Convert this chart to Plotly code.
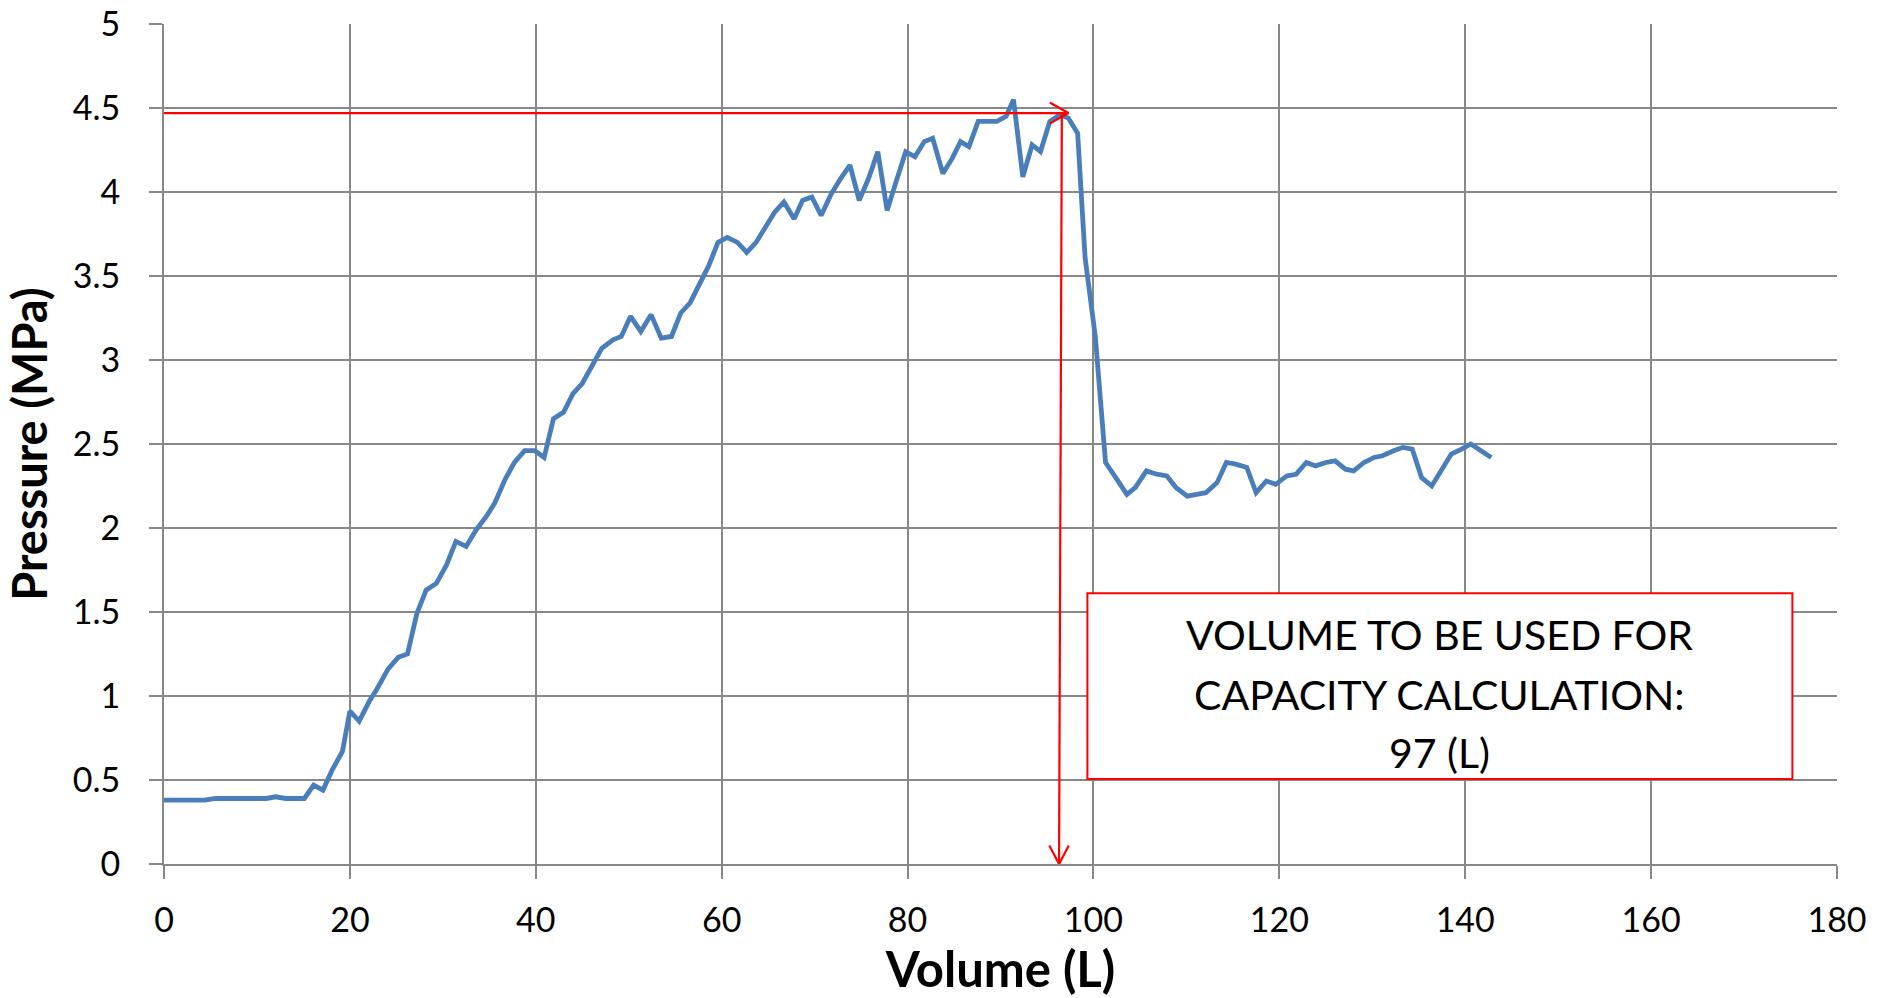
import plotly.graph_objects as go

# Measured fill curve: volume (L) and pressure (MPa)
volume_l = [
    0, 1.1, 2.2, 3.3, 4.4, 5.5, 6.6, 7.7, 8.8, 9.9, 11.0, 12.0, 13.1, 14.1, 15.1,
    16.1, 17.1, 18.1, 19.2, 20.0, 21.0, 22.1, 22.9, 24.1, 25.2, 26.2, 27.2, 28.2,
    29.3, 30.4, 31.4, 32.5, 33.6, 34.7, 35.6, 36.7, 37.7, 38.8, 39.9, 40.9, 41.9,
    43.0, 44.0, 45.0, 46.0, 47.1, 48.3, 49.2, 50.2, 51.3, 52.4, 53.5, 54.6, 55.6,
    56.6, 57.6, 58.6, 59.6, 60.6, 61.7, 62.7, 63.7, 64.7, 65.7, 66.7, 67.8, 68.7,
    69.7, 70.7, 71.8, 72.8, 73.8, 74.8, 75.8, 76.8, 77.8, 78.7, 79.8, 80.8, 81.8,
    82.7, 83.8, 84.8, 85.7, 86.6, 87.6, 88.6, 89.6, 90.6, 91.4, 92.4, 93.4, 94.3,
    95.3, 96.4, 97.3, 98.3, 99.1, 100.2, 101.3, 102.4, 103.6, 104.5, 105.7, 106.8,
    107.9, 108.9, 110.1, 111.1, 112.1, 113.3, 114.3, 115.3, 116.5, 117.5, 118.6,
    119.6, 120.8, 121.8, 122.9, 123.9, 125.0, 126.0, 127.1, 128.0, 129.1, 130.2,
    131.1, 132.3, 133.3, 134.3, 135.3, 136.4, 137.5, 138.5, 139.6, 140.6, 141.7,
    142.8,
]
pressure_mpa = [
    0.38, 0.38, 0.38, 0.38, 0.38, 0.39, 0.39, 0.39, 0.39, 0.39, 0.39, 0.40, 0.39, 0.39, 0.39,
    0.47, 0.44, 0.56, 0.67, 0.91, 0.85, 0.97, 1.04, 1.16, 1.23, 1.25, 1.49, 1.63,
    1.67, 1.78, 1.92, 1.89, 1.99, 2.07, 2.15, 2.29, 2.39, 2.46, 2.46, 2.42, 2.65,
    2.69, 2.80, 2.86, 2.96, 3.07, 3.12, 3.14, 3.26, 3.17, 3.27, 3.13, 3.14, 3.28,
    3.34, 3.45, 3.56, 3.70, 3.73, 3.70, 3.64, 3.70, 3.79, 3.88, 3.94, 3.84, 3.95,
    3.97, 3.86, 3.99, 4.08, 4.16, 3.95, 4.08, 4.24, 3.89, 4.05, 4.24, 4.21, 4.30,
    4.32, 4.11, 4.20, 4.30, 4.27, 4.42, 4.42, 4.42, 4.45, 4.55, 4.09, 4.28, 4.24,
    4.42, 4.46, 4.44, 4.35, 3.61, 3.14, 2.39, 2.30, 2.20, 2.24, 2.34, 2.32,
    2.31, 2.24, 2.19, 2.20, 2.21, 2.27, 2.39, 2.38, 2.36, 2.21, 2.28,
    2.26, 2.31, 2.32, 2.39, 2.37, 2.39, 2.40, 2.35, 2.34, 2.39, 2.42,
    2.43, 2.46, 2.48, 2.47, 2.30, 2.25, 2.35, 2.44, 2.47, 2.50, 2.46,
    2.42,
]

x_ticks = [0, 20, 40, 60, 80, 100, 120, 140, 160, 180]
y_ticks = [0, 0.5, 1, 1.5, 2, 2.5, 3, 3.5, 4, 4.5, 5]
y_tick_text = ["0", "0.5", "1", "1.5", "2", "2.5", "3", "3.5", "4", "4.5", "5"]

# Capacity read-off guide
capacity_volume = 97
guide_pressure = 4.47
guide_top_x = 96.6
guide_bottom_x = 96.3

# Callout box extent (data units)
box_x = (99.35, 175.2)
box_y = (0.506, 1.612)
box_lines = ["VOLUME TO BE USED FOR", "CAPACITY CALCULATION:", f"{capacity_volume} (L)"]
box_line_y = [1.365, 1.008, 0.663]

RED = "#FF0000"
BLUE = "#4A7EBB"
GRID = "#888888"
FONT = "Lato"

fig = go.Figure()

fig.add_trace(go.Scatter(
    x=volume_l, y=pressure_mpa, mode="lines",
    line=dict(color=BLUE, width=4.8), showlegend=False, hoverinfo="x+y",
))

# Horizontal arrow at peak pressure, vertical arrow down to the volume axis
head_h_dx, head_h_dy = 2.0, 0.063
head_v_dx, head_v_dy = 1.05, 0.11
tip_h = capacity_volume + 0.3
arrow_x = [0, tip_h, None,
           tip_h - head_h_dx, tip_h, tip_h - head_h_dx, None,
           guide_top_x, guide_bottom_x, None,
           guide_bottom_x - head_v_dx, guide_bottom_x, guide_bottom_x + head_v_dx]
arrow_y = [guide_pressure, guide_pressure, None,
           guide_pressure + head_h_dy, guide_pressure, guide_pressure - head_h_dy, None,
           guide_pressure, 0, None,
           head_v_dy, 0, head_v_dy]
fig.add_trace(go.Scatter(
    x=arrow_x, y=arrow_y, mode="lines",
    line=dict(color=RED, width=2.2), showlegend=False, hoverinfo="skip",
    cliponaxis=False,
))

fig.add_shape(
    type="rect", xref="x", yref="y",
    x0=box_x[0], x1=box_x[1], y0=box_y[0], y1=box_y[1],
    line=dict(color=RED, width=2), fillcolor="white", layer="above",
)
for text, yy in zip(box_lines, box_line_y):
    fig.add_annotation(
        x=(box_x[0] + box_x[1]) / 2, y=yy, xref="x", yref="y",
        text=text, showarrow=False,
        font=dict(family=FONT, size=41, color="black"),
        xanchor="center", yanchor="middle",
    )

axis_common = dict(
    showgrid=True, gridcolor=GRID, gridwidth=2,
    showline=True, linecolor=GRID, linewidth=2,
    ticks="outside", ticklen=13, tickwidth=2, tickcolor=GRID,
    zeroline=False, automargin=False,
    tickfont=dict(family=FONT, size=34, color="black"),
)

fig.update_xaxes(
    range=[0, 180], tickmode="array", tickvals=x_ticks,
    title=dict(text="Volume (L)", font=dict(family=FONT, size=49, color="black", weight="bold"), standoff=2),
    ticklabelstandoff=12,
    **axis_common,
)
fig.update_yaxes(
    range=[0, 5], tickmode="array", tickvals=y_ticks, ticktext=y_tick_text,
    title=dict(text="Pressure (MPa)", font=dict(family=FONT, size=47, color="black", weight="bold"), standoff=10),
    ticklabelstandoff=22,
    **axis_common,
)

fig.update_layout(
    width=1880, height=998,
    margin=dict(l=164, r=43, t=24, b=134),
    paper_bgcolor="white", plot_bgcolor="white",
    font=dict(family=FONT, color="black"),
)

fig.write_html("out.html")
